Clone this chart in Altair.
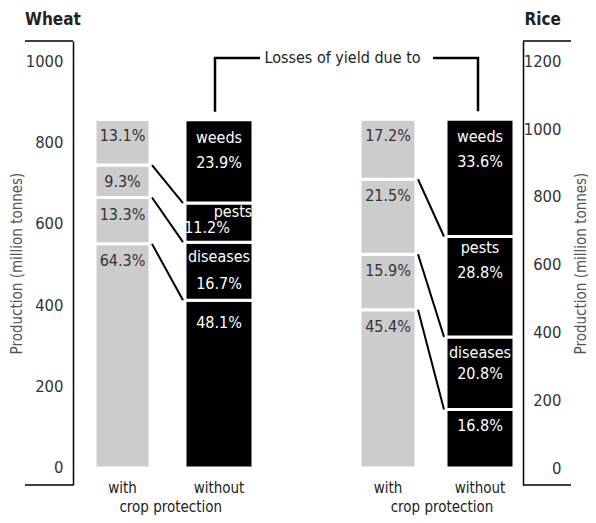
import altair as alt
import pandas as pd

# ---------------- data ----------------
crops = ["Wheat", "Rice"]
conditions = ["with", "without"]
categories = ["yield", "diseases", "pests", "weeds"]          # bottom -> top
loss_names = ["", "diseases", "pests", "weeds"]
wheat_with = [64.3, 13.3, 9.3, 13.1]
wheat_without = [48.1, 16.7, 11.2, 23.9]
rice_with = [45.4, 15.9, 21.5, 17.2]
rice_without = [16.8, 20.8, 28.8, 33.6]
wheat_attainable = 857      # million tonnes (100 %)
rice_attainable = 1029
wheat_ticks = [0, 200, 400, 600, 800, 1000]
rice_ticks = [0, 200, 400, 600, 800, 1000, 1200]
y_title = "Production (million tonnes)"
x_title = "crop protection"
annotation = "Losses of yield due to"

values = {
    ("Wheat", "with"): wheat_with, ("Wheat", "without"): wheat_without,
    ("Rice", "with"): rice_with, ("Rice", "without"): rice_without,
}
attainable = {"Wheat": wheat_attainable, "Rice": rice_attainable}
ticks = {"Wheat": wheat_ticks, "Rice": rice_ticks}

# ---------------- layout / style ----------------
W, H = 450, 444
FONT = "'DejaVu Sans Condensed', 'Roboto Condensed', 'Liberation Sans Narrow', Roboto, sans-serif"
GRAY = "#cccccc"
domains = {"Wheat": [-42, 1050], "Rice": [-50, 1260]}
bar_x = {("Wheat", "with"): (22, 77), ("Wheat", "without"): (112, 180),
         ("Rice", "with"): (287, 343), ("Rice", "without"): (373, 441)}
bracket_x = {"Wheat": (142, 187), "Rice": (405, 360)}   # vertical arm x, end of horizontal arm
bracket_level_px = 17
gray_label_px = 17
# (name_dy, name_dx, pct_dy, pct_dx) in pixels below the segment top
black_label_px = {
    ("Wheat", "weeds"): (18, 0, 43, 0), ("Wheat", "pests"): (9, 14, 25, -12),
    ("Wheat", "diseases"): (15, 0, 42, 0), ("Wheat", "yield"): (None, 0, 23, 0),
    ("Rice", "weeds"): (18, 0, 43, 0), ("Rice", "pests"): (12, 0, 37, 0),
    ("Rice", "diseases"): (16, 0, 37, 0), ("Rice", "yield"): (None, 0, 17, 0),
}
axis_side = {"Wheat": "left", "Rice": "right"}
FS_TICK, FS_TEXT, FS_TITLE, FS_HEAD, FS_BOTTOM = 16.5, 16, 15, 17, 15

xs = alt.Scale(domain=[0, W], nice=False, zero=False)


def ppu(crop):
    d = domains[crop]
    return H / (d[1] - d[0])


def crop_layer(crop):
    tot = attainable[crop]
    p = ppu(crop)
    seg_rows, lab_rows, name_rows, cum_by_cond = [], [], [], {}
    for cond in conditions:
        x0, x1 = bar_x[(crop, cond)]
        cum = 0.0
        cums = []
        for cat, name, v in zip(categories, loss_names, values[(crop, cond)]):
            y0 = cum * tot / 100
            cum += v
            y1 = cum * tot / 100
            cums.append(y1)
            seg_rows.append(dict(cond=cond, cat=cat, x0=x0, x1=x1, y0=y0, y1=y1))
            xc = (x0 + x1) / 2
            if cond == "with":
                lab_rows.append(dict(cond=cond, txt=f"{v}%", x=xc, y=y1 - gray_label_px / p))
            else:
                ndy, ndx, pdy, pdx = black_label_px[(crop, cat)]
                lab_rows.append(dict(cond=cond, txt=f"{v}%", x=xc + pdx, y=y1 - pdy / p))
                if ndy is not None:
                    name_rows.append(dict(cond=cond, txt=name, x=xc + ndx, y=y1 - ndy / p))
        cum_by_cond[cond] = cums
    seg = pd.DataFrame(seg_rows)
    labs = pd.DataFrame(lab_rows + name_rows)

    # connectors between matching boundaries
    gx = bar_x[(crop, "with")][1] + 2
    bx = bar_x[(crop, "without")][0] - 2
    con = pd.DataFrame([dict(xa=gx, xb=bx, ya=cum_by_cond["with"][k], yb=cum_by_cond["without"][k])
                        for k in range(3)])

    d = domains[crop]
    side = axis_side[crop]
    axis = alt.Axis(values=ticks[crop], format="d", orient=side, title=y_title, ticks=False, grid=False,
                    domainColor="black", domainWidth=1.5,
                    labelFont=FONT, labelFontSize=FS_TICK, labelColor="#333333",
                    labelAlign="right", labelBaseline="middle",
                    labelPadding=10 if side == "left" else 38,
                    titleFont=FONT, titleFontSize=FS_TITLE, titleFontWeight="normal", titleColor="#555555",
                    titleAngle=270, titleAlign="center", titleBaseline="middle",
                    titleX=-57 if side == "left" else 57, titleY=H / 2)
    ys = alt.Scale(domain=d, nice=False, zero=False)

    bars = alt.Chart(seg).mark_rect(stroke="white", strokeWidth=3).encode(
        x=alt.X("x0:Q", scale=xs, axis=None), x2="x1:Q",
        y=alt.Y("y0:Q", scale=ys, axis=axis), y2="y1:Q",
        fill=alt.Fill("cond:N", scale=alt.Scale(domain=conditions, range=[GRAY, "black"]), legend=None),
    )
    text_gray = alt.Chart(labs[labs.cond == "with"]).mark_text(
        font=FONT, fontSize=FS_TEXT, color="#333333", baseline="middle", align="center").encode(
        x=alt.X("x:Q", scale=xs, axis=None), y=alt.Y("y:Q", scale=ys, axis=axis), text="txt:N")
    text_black = alt.Chart(labs[labs.cond == "without"]).mark_text(
        font=FONT, fontSize=FS_TEXT, color="white", baseline="middle", align="center").encode(
        x=alt.X("x:Q", scale=xs, axis=None), y=alt.Y("y:Q", scale=ys, axis=axis), text="txt:N")
    connectors = alt.Chart(con).mark_rule(color="black", strokeWidth=2).encode(
        x=alt.X("xa:Q", scale=xs, axis=None), x2="xb:Q",
        y=alt.Y("ya:Q", scale=ys, axis=axis), y2="yb:Q")

    # outer brackets of the axis (top and bottom horizontal strokes)
    if side == "left":
        ax0, ax1 = -48, 0
    else:
        ax0, ax1 = W, W + 48
    frame = pd.DataFrame([dict(xa=ax0, xb=ax1, y=d[0]), dict(xa=ax0, xb=ax1, y=d[1])])
    frame_rules = alt.Chart(frame).mark_rule(color="black", strokeWidth=1.5).encode(
        x=alt.X("xa:Q", scale=xs, axis=None), x2="xb:Q", y=alt.Y("y:Q", scale=ys, axis=axis))

    # "Losses of yield due to" bracket arm
    vx, hx = bracket_x[crop]
    top = cum_by_cond["without"][-1]
    level = d[1] - bracket_level_px / p
    br = pd.DataFrame([dict(i=0, x=vx, y=top + 8 / p), dict(i=1, x=vx, y=level), dict(i=2, x=hx, y=level)])
    bracket = alt.Chart(br).mark_line(color="black", strokeWidth=2.5).encode(
        x=alt.X("x:Q", scale=xs, axis=None), y=alt.Y("y:Q", scale=ys, axis=axis), order="i:Q")

    # crop title
    if side == "left":
        title = alt.Chart(pd.DataFrame([dict(t=crop, x=-48)])).mark_text(
            font=FONT, fontSize=FS_HEAD, fontWeight="bold", color="#222222", align="left", baseline="middle").encode(
            x=alt.X("x:Q", scale=xs, axis=None), y=alt.value(-21), text="t:N")
    else:
        title = alt.Chart(pd.DataFrame([dict(t=crop, x=W + 38)])).mark_text(
            font=FONT, fontSize=FS_HEAD, fontWeight="bold", color="#222222", align="right", baseline="middle").encode(
            x=alt.X("x:Q", scale=xs, axis=None), y=alt.value(-21), text="t:N")

    # bottom category labels
    cats = pd.DataFrame([dict(t=c, x=sum(bar_x[(crop, c)]) / 2) for c in conditions])
    cat_text = alt.Chart(cats).mark_text(font=FONT, fontSize=FS_BOTTOM, color="#222222", baseline="middle").encode(
        x=alt.X("x:Q", scale=xs, axis=None), y=alt.value(447), text="t:N")
    mid = (sum(bar_x[(crop, "with")]) + sum(bar_x[(crop, "without")])) / 4 + (0 if side == "left" else 8)
    sub = alt.Chart(pd.DataFrame([dict(t=x_title, x=mid)])).mark_text(
        font=FONT, fontSize=FS_BOTTOM, color="#222222", baseline="middle").encode(
        x=alt.X("x:Q", scale=xs, axis=None), y=alt.value(466), text="t:N")

    layers = [bars, connectors, text_gray, text_black, frame_rules, bracket, title, cat_text, sub]
    if side == "left":
        ann_x = (bracket_x["Wheat"][0] + bracket_x["Rice"][0]) / 2 - 4
        ann = alt.Chart(pd.DataFrame([dict(t=annotation, x=ann_x, y=level)])).mark_text(
            font=FONT, fontSize=FS_TEXT, color="#222222", baseline="middle").encode(
            x=alt.X("x:Q", scale=xs, axis=None), y=alt.Y("y:Q", scale=ys, axis=axis), text="t:N")
        layers.append(ann)
    return alt.layer(*layers)


chart = alt.layer(crop_layer("Wheat"), crop_layer("Rice")).resolve_scale(y="independent").properties(
    width=W, height=H,
    autosize=alt.AutoSizeParams(type="none"),
    padding={"left": 65, "top": 33, "right": 65, "bottom": 30},
).configure_view(stroke=None)

chart.save("out.html", embed_options={"renderer": "svg", "actions": False})
